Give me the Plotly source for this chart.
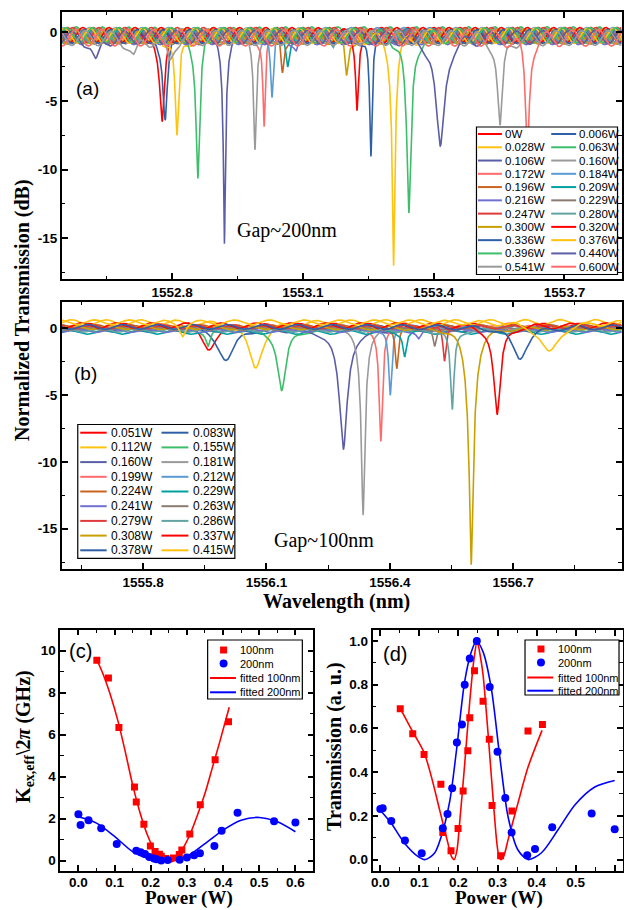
import numpy as np
import plotly.graph_objects as go

W, H = 624, 910
SANS = "Liberation Sans, Arial, sans-serif"
SERIF = "Liberation Serif, Times New Roman, serif"

# ---------------- gap ~200 nm device ----------------
power_200 = [0, 0.006, 0.028, 0.063, 0.106, 0.160, 0.172, 0.184, 0.196, 0.209, 0.216,
             0.229, 0.247, 0.280, 0.300, 0.320, 0.336, 0.376, 0.396, 0.440, 0.541, 0.600]
label_200 = ["0W", "0.006W", "0.028W", "0.063W", "0.106W", "0.160W", "0.172W", "0.184W",
             "0.196W", "0.209W", "0.216W", "0.229W", "0.247W", "0.280W", "0.300W", "0.320W",
             "0.336W", "0.376W", "0.396W", "0.440W", "0.541W", "0.600W"]
# resonance centre (nm), on-resonance transmission (linear), half linewidth (nm)
center_200 = [1552.777, 1552.784, 1552.811, 1552.859, 1552.920, 1552.990, 1553.011, 1553.029,
              1553.053, 1553.065, 1553.085, 1553.105, 1553.130, 1553.170, 1553.200, 1553.224,
              1553.256, 1553.308, 1553.343, 1553.415, 1553.552, 1553.615]
trans_200 = [0.231, 0.235, 0.176, 0.087, 0.029, 0.143, 0.208, 0.326, 0.535, 0.618, 0.800,
             0.920, 1.000, 0.789, 0.493, 0.282, 0.124, 0.020, 0.048, 0.148, 0.211, 0.139]
hwhm_200 = [0.0095, 0.009, 0.008, 0.0095, 0.0075, 0.006, 0.005, 0.0055, 0.0045, 0.0045, 0.006,
            0.006, 0.006, 0.006, 0.0055, 0.005, 0.006, 0.0105, 0.013, 0.020, 0.0105, 0.009]
kappa_200 = [2.20, 1.69, 1.92, 1.53, 0.79, 0.47, 0.39, 0.31, 0.17, 0.10, 0.06,
             0.00, 0.02, 0.03, 0.14, 0.25, 0.35, 0.69, 1.42, 2.27, 1.87, 1.81]
# weak neighbouring resonances (trace index, centre, transmission, half width)
side_trace_200 = [19, 20, 20]
side_center_200 = [1552.625, 1552.712, 1552.794]
side_trans_200 = [0.64, 0.70, 0.67]
side_hwhm_200 = [0.012, 0.012, 0.010]
# Fabry-Perot baseline fringe of each sweep (dB offset, dB amplitude, shift in nm)
ripple_offset_200 = [-0.20, -0.25, -0.30, -0.20, -0.35, -0.30, -0.25, -0.20, -0.30, -0.25, -0.35,
                     -0.30, -0.20, -0.25, -0.30, -0.20, -0.30, -0.25, -0.20, -0.35, -0.40, -0.40]
ripple_amp_200 = [0.55, 0.50, 0.55, 0.60, 0.50, 0.55, 0.50, 0.55, 0.50, 0.50, 0.55,
                  0.50, 0.55, 0.50, 0.55, 0.55, 0.50, 0.55, 0.55, 0.50, 0.55, 0.60]
ripple_shift_200 = [0.000, 0.004, 0.012, 0.020, 0.031, 0.043, 0.047, 0.051, 0.055, 0.059, 0.002,
                    0.006, 0.012, 0.022, 0.028, 0.035, 0.040, 0.052, 0.058, 0.010, 0.040, 0.018]
ripple_period_200 = 0.060

# ---------------- gap ~100 nm device ----------------
power_100 = [0.051, 0.083, 0.112, 0.155, 0.160, 0.181, 0.199, 0.212, 0.224, 0.229, 0.241,
             0.263, 0.279, 0.286, 0.308, 0.337, 0.378, 0.415]
label_100 = ["0.051W", "0.083W", "0.112W", "0.155W", "0.160W", "0.181W", "0.199W", "0.212W",
             "0.224W", "0.229W", "0.241W", "0.263W", "0.279W", "0.286W", "0.308W", "0.337W",
             "0.378W", "0.415W"]
center_100 = [1555.959, 1556.002, 1556.073, 1556.137, 1556.287, 1556.335, 1556.378, 1556.401,
              1556.417, 1556.436, 1556.470, 1556.509, 1556.533, 1556.552, 1556.598, 1556.661,
              1556.716, 1556.788]
trans_100 = [0.690, 0.576, 0.480, 0.344, 0.124, 0.040, 0.142, 0.314, 0.498, 0.649, 0.864,
             0.724, 0.550, 0.247, 0.017, 0.222, 0.588, 0.618]
hwhm_100 = [0.022, 0.028, 0.024, 0.016, 0.020, 0.0125, 0.008, 0.006, 0.005, 0.005, 0.006,
            0.005, 0.005, 0.0075, 0.0185, 0.0145, 0.025, 0.030]
kappa_100 = [9.53, 8.69, 6.33, 3.50, 2.79, 1.73, 0.69, 0.43, 0.30, 0.20, 0.10,
             0.12, 0.28, 0.50, 1.26, 2.66, 4.80, 6.61]
side_trace_100 = [17, 3]
side_center_100 = [1555.896, 1555.958]
side_trans_100 = [0.82, 0.76]
side_hwhm_100 = [0.008, 0.007]
ripple_offset_100 = [0.15, 0.05, 0.45, -0.10, -0.15, -0.05, 0.05, 0.00, 0.10, -0.30, -0.20,
                     -0.05, 0.10, -0.15, 0.05, 0.20, 0.10, 0.45]
ripple_amp_100 = [0.22, 0.18, 0.20, 0.15, 0.12, 0.12, 0.15, 0.15, 0.15, 0.15, 0.12,
                  0.12, 0.15, 0.15, 0.15, 0.20, 0.18, 0.18]
ripple_shift_100 = [0.000, 0.020, 0.040, 0.060, 0.010, 0.030, 0.050, 0.070, 0.015, 0.035, 0.055,
                    0.075, 0.005, 0.025, 0.045, 0.065, 0.080, 0.012]
ripple_period_100 = 0.085

# ---------------- fitted curves (c) and (d) ----------------
fit_c100_x = [0.051, 0.070, 0.090, 0.110, 0.130, 0.150, 0.170, 0.190, 0.210, 0.230, 0.250,
              0.270, 0.290, 0.310, 0.330, 0.350, 0.370, 0.390, 0.417]
fit_c100_y = [9.56, 8.80, 7.80, 6.60, 5.15, 3.60, 2.30, 1.25, 0.50, 0.08, -0.08,
              0.08, 0.60, 1.30, 2.20, 3.20, 4.40, 5.60, 7.30]
fit_c200_x = [0.0, 0.05, 0.10, 0.15, 0.20, 0.25, 0.30, 0.35, 0.40, 0.45, 0.50, 0.55, 0.60]
fit_c200_y = [2.08, 1.78, 1.15, 0.42, 0.06, 0.0, 0.20, 0.80, 1.45, 1.92, 2.05, 1.84, 1.37]
fit_d100_x = [0.051, 0.082, 0.112, 0.131, 0.152, 0.173, 0.182, 0.189, 0.196, 0.203, 0.216,
              0.229, 0.240, 0.248, 0.256, 0.263, 0.276, 0.291, 0.301, 0.308, 0.316, 0.327,
              0.352, 0.378, 0.414]
fit_d100_y = [0.691, 0.588, 0.490, 0.377, 0.226, 0.075, 0.015, 0.0, 0.04, 0.166, 0.437,
              0.724, 0.920, 0.998, 0.930, 0.845, 0.573, 0.226, 0.040, 0.0, 0.016, 0.090,
              0.256, 0.422, 0.591]
fit_d200_x = [0.0, 0.028, 0.062, 0.096, 0.115, 0.139, 0.156, 0.178, 0.195, 0.216, 0.233,
              0.246, 0.263, 0.284, 0.306, 0.327, 0.352, 0.378, 0.412, 0.455, 0.498, 0.549, 0.600]
fit_d200_y = [0.226, 0.166, 0.075, 0.015, 0.0, 0.030, 0.106, 0.270, 0.500, 0.815, 0.950,
              1.000, 0.950, 0.784, 0.468, 0.196, 0.045, 0.0, 0.030, 0.136, 0.250, 0.332, 0.362]

# axis tick labels
db_tickvals = [0, -5, -10, -15]
db_ticktext = ["0", "-5", "-10", "-15"]
kappa_tickvals = [0, 2, 4, 6, 8, 10]
kappa_ticktext = ["0", "2", "4", "6", "8", "10"]
trans_tickvals = [0.0, 0.2, 0.4, 0.6, 0.8, 1.0]
trans_ticktext = ["0.0", "0.2", "0.4", "0.6", "0.8", "1.0"]
legend_cd = ["100nm", "200nm", "fitted 100nm", "fitted 200nm"]

PALETTE = ["#FF0000", "#2F5FA7", "#FFC20E", "#3DBE6A", "#5B5EA6", "#9A9A9A", "#FF6B6B",
           "#5B9BD5", "#C8641E", "#00A0A0", "#7070D0", "#8C7B70", "#E03A3A", "#62A3A3", "#C9A000"]
RED, BLUE = "#FF0000", "#0000FF"

XR_A = [1552.547, 1553.831]
XR_B = [1555.602, 1556.964]


def fx(p):
    return p / W


def fy(p):
    return 1 - p / H


def spectrum(x, centers, trans, hw, off, amp, shift, period):
    lin = np.ones_like(x)
    for c, t, g in zip(centers, trans, hw):
        lin *= 1.0 - (1.0 - t) * g ** 2 / ((x - c) ** 2 + g ** 2)
    fringe = off + amp * np.cos(2 * np.pi * (x - shift) / period)
    return 10 * np.log10(lin) + fringe * lin


fig = go.Figure()


def add_sweeps(xr, centers, trans, hws, offs, amps, shifts, period,
               s_idx, s_c, s_t, s_w, xa, ya):
    grid = np.linspace(xr[0], xr[1], 3200)
    for i in range(len(centers)):
        cs, ts, ws = [centers[i]], [trans[i]], [hws[i]]
        for k, j in enumerate(s_idx):
            if j == i:
                cs.append(s_c[k]); ts.append(s_t[k]); ws.append(s_w[k])
        x = np.union1d(grid, cs)
        y = spectrum(x, cs, ts, ws, offs[i], amps[i], shifts[i], period)
        fig.add_trace(go.Scatter(x=x, y=y, mode="lines", xaxis=xa, yaxis=ya,
                                 line=dict(color=PALETTE[i % len(PALETTE)], width=1.6),
                                 hoverinfo="skip", showlegend=False))


add_sweeps(XR_A, center_200, trans_200, hwhm_200, ripple_offset_200, ripple_amp_200,
           ripple_shift_200, ripple_period_200, side_trace_200, side_center_200,
           side_trans_200, side_hwhm_200, "x", "y")
add_sweeps(XR_B, center_100, trans_100, hwhm_100, ripple_offset_100, ripple_amp_100,
           ripple_shift_100, ripple_period_100, side_trace_100, side_center_100,
           side_trans_100, side_hwhm_100, "x2", "y2")

# (c) external coupling rate and (d) on-resonance transmission
for xa, ya, f100x, f100y, f200x, f200y, d100, d200 in [
        ("x3", "y3", fit_c100_x, fit_c100_y, fit_c200_x, fit_c200_y, kappa_100, kappa_200),
        ("x4", "y4", fit_d100_x, fit_d100_y, fit_d200_x, fit_d200_y, trans_100, trans_200)]:
    fig.add_trace(go.Scatter(x=f100x, y=f100y, mode="lines", xaxis=xa, yaxis=ya,
                             line=dict(color=RED, width=1.6, shape="spline", smoothing=0.8),
                             showlegend=False, hoverinfo="skip"))
    fig.add_trace(go.Scatter(x=f200x, y=f200y, mode="lines", xaxis=xa, yaxis=ya,
                             line=dict(color=BLUE, width=1.6, shape="spline", smoothing=0.8),
                             showlegend=False, hoverinfo="skip"))
    fig.add_trace(go.Scatter(x=power_100, y=d100, mode="markers", xaxis=xa, yaxis=ya,
                             marker=dict(symbol="square", size=7, color=RED),
                             showlegend=False, hoverinfo="skip"))
    fig.add_trace(go.Scatter(x=power_200, y=d200, mode="markers", xaxis=xa, yaxis=ya,
                             marker=dict(symbol="circle", size=8, color=BLUE),
                             showlegend=False, hoverinfo="skip"))

# ---------------- axes ----------------
TICKFONT = dict(family=SANS, size=13.5, color="black")


def bold(labels):
    return ["<b>%s</b>" % s for s in labels]


def axis(domain, rng, anchor, minor_dtick, minor_tick0=0, **kw):
    d = dict(domain=domain, range=rng, anchor=anchor, showline=True, linecolor="black",
             linewidth=1.8, mirror="allticks", ticks="inside", ticklen=6, tickwidth=1.5,
             tickcolor="black", showgrid=False, zeroline=False, tickfont=TICKFONT,
             minor=dict(ticks="inside", ticklen=3.5, tickwidth=1.2, tickcolor="black",
                        dtick=minor_dtick, tick0=minor_tick0, showgrid=False))
    d.update(kw)
    return d


LIN_BOLD = dict(tickmode="linear", tickprefix="<b>", ticksuffix="</b>", tickformat=".1f")

fig.update_layout(
    width=W, height=H, autosize=False, margin=dict(l=0, r=0, t=0, b=0),
    paper_bgcolor="white", plot_bgcolor="white", showlegend=False, hovermode=False,
    xaxis=axis([fx(60), fx(621.6)], XR_A, "y", 0.15, 1552.8,
               tick0=1552.8, dtick=0.3, **LIN_BOLD),
    yaxis=axis([fy(279.3), fy(11.7)], [-18, 1.5], "x", 2.5, 0,
               tickmode="array", tickvals=db_tickvals, ticktext=bold(db_ticktext)),
    xaxis2=axis([fx(60), fx(621.6)], XR_B, "y2", 0.15, 1555.8,
                tick0=1555.8, dtick=0.3, **LIN_BOLD),
    yaxis2=axis([fy(568.7), fy(301.5)], [-18, 2], "x2", 2.5, 0,
                tickmode="array", tickvals=db_tickvals, ticktext=bold(db_ticktext)),
    xaxis3=axis([fx(58.5), fx(312.5)], [-0.05, 0.65], "y3", 0.05, 0,
                tick0=0, dtick=0.1, ticklabelstandoff=-2, **LIN_BOLD),
    yaxis3=axis([fy(871), fy(629.5)], [-0.5, 11], "x3", 1, 0,
                tickmode="array", tickvals=kappa_tickvals, ticktext=bold(kappa_ticktext)),
    xaxis4=axis([fx(371.7), fx(622.5)], [-0.02, 0.62], "y4", 0.05, 0,
                tick0=0, dtick=0.1, ticklabelstandoff=-2, **LIN_BOLD),
    yaxis4=axis([fy(870.5), fy(630)], [-0.05, 1.05], "x4", 0.1, 0,
                tickmode="array", tickvals=trans_tickvals, ticktext=bold(trans_ticktext)),
)

# ---------------- legends, labels, titles ----------------
shapes, annotations = [], []


def text(x, y, s, size, family=SANS, xanchor="center", angle=0, yanchor="middle"):
    annotations.append(dict(xref="paper", yref="paper", x=fx(x), y=fy(y), text=s,
                            showarrow=False, xanchor=xanchor, yanchor=yanchor,
                            textangle=angle, borderpad=0,
                            font=dict(family=family, size=size, color="black")))


def box(x0, x1, y0, y1):
    shapes.append(dict(type="rect", xref="paper", yref="paper", x0=fx(x0), x1=fx(x1),
                       y0=fy(y1), y1=fy(y0), line=dict(color="black", width=1.2),
                       fillcolor="white", layer="above"))


def hline(x0, x1, y, color):
    shapes.append(dict(type="line", xref="paper", yref="paper", x0=fx(x0), x1=fx(x1),
                       y0=fy(y), y1=fy(y), line=dict(color=color, width=2), layer="above"))


def two_column_legend(labels, bx, by, row0, dy, col_line, col_text, size):
    box(*bx, *by)
    for i, lab in enumerate(labels):
        r, c = divmod(i, 2)
        y = row0 + r * dy
        hline(col_line[c][0], col_line[c][1], y, PALETTE[i % len(PALETTE)])
        text(col_text[c], y, lab, size, xanchor="left")


two_column_legend(label_200, (476, 617.5), (127, 274.5), 134.0, 13.27,
                  [(477.5, 501.5), (551, 576)], [503.5, 577.5], 11.5)
two_column_legend(label_100, (76, 233.6), (424.5, 558.3), 432.7, 14.7,
                  [(78.5, 105), (160, 187)], [108, 190.5], 12)


def marker_legend(bx, by, rows, mx, lx, tx):
    box(*bx, *by)
    s = 3.5
    shapes.append(dict(type="rect", xref="paper", yref="paper", x0=fx(mx - s), x1=fx(mx + s),
                       y0=fy(rows[0] + s), y1=fy(rows[0] - s), line=dict(width=0),
                       fillcolor=RED, layer="above"))
    c = 4
    shapes.append(dict(type="circle", xref="paper", yref="paper", x0=fx(mx - c), x1=fx(mx + c),
                       y0=fy(rows[1] + c), y1=fy(rows[1] - c), line=dict(width=0),
                       fillcolor=BLUE, layer="above"))
    hline(lx[0], lx[1], rows[2], RED)
    hline(lx[0], lx[1], rows[3], BLUE)
    for lab, y in zip(legend_cd, rows):
        text(tx, y, lab, 11, xanchor="left")


marker_legend((206.3, 301.3), (640, 699), [650, 663.5, 678, 692.3], 222.3, (208.7, 234.7), 238)
marker_legend((524.7, 619), (640, 695), [649, 662.5, 677.5, 690.7], 540.7, (527, 553), 556.5)

# panel tags and device labels
text(85.5, 88.5, "(a)", 19)
text(84, 373.5, "(b)", 19)
text(79, 650.5, "(c)", 20)
text(394, 653.5, "(d)", 20)
text(285.5, 230, "Gap~200nm", 20, family=SERIF)
text(323.3, 540.8, "Gap~100nm", 20, family=SERIF)

# axis titles
text(20, 310, "<b>Normalized Transmission (dB)</b>", 20, family=SERIF, angle=-90)
text(336, 601, "<b>Wavelength (nm)</b>", 20, family=SERIF)
text(188, 910, "<b>Power (W)</b>", 19, family=SERIF, yanchor="bottom")
text(499, 910, "<b>Power (W)</b>", 19, family=SERIF, yanchor="bottom")
text(22, 736, "<b>K<sub>ex,eff</sub>\\2<i>π</i> (GHz)</b>", 20, family=SERIF, angle=-90)
text(333, 746, "<b>Transmission (a. u.)</b>", 20, family=SERIF, angle=-90)

fig.update_layout(shapes=shapes, annotations=annotations)
fig.write_html("out.html", config=dict(displayModeBar=False))
